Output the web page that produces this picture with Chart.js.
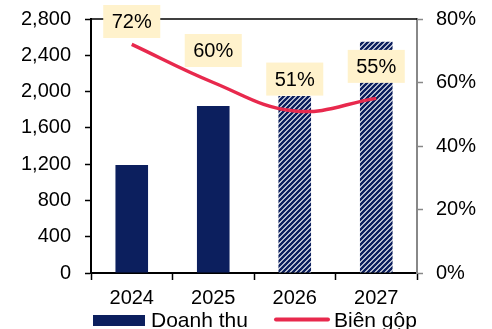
<!DOCTYPE html>
<html>
<head>
<meta charset="utf-8">
<script src="https://cdn.jsdelivr.net/npm/chart.js@4.4.1/dist/chart.umd.min.js"></script>
<style>
  html, body { margin: 0; padding: 0; background: #ffffff; }
  #wrap { width: 492px; height: 329px; }
</style>
</head>
<body>
<div id="wrap"><canvas id="chart" width="492" height="329"></canvas></div>
<script>
// Revenue (bars, left axis) and gross margin (line, right axis)
const years = ['2024', '2025', '2026', '2027'];
const revenue = [1190, 1840, 1950, 2550];
const grossMargin = [72, 60, 51, 55];
const forecastYears = ['2026', '2027'];
const revenueTicks = [0, 400, 800, 1200, 1600, 2000, 2400, 2800];
const marginTicks = [0, 20, 40, 60, 80];

const NAVY = '#0c1f5e';
const RED = '#e8294d';
const FONT = "'Liberation Sans', Arial, sans-serif";

// diagonal hatch used for forecast years
function makeHatch() {
  const s = 5;
  const c = document.createElement('canvas');
  c.width = s; c.height = s;
  const g = c.getContext('2d');
  g.fillStyle = '#ffffff';
  g.fillRect(0, 0, s, s);
  g.strokeStyle = NAVY;
  g.lineWidth = 2.6;
  g.beginPath();
  g.moveTo(-1, s + 1); g.lineTo(s + 1, -1);
  g.moveTo(-1, 1); g.lineTo(1, -1);
  g.moveTo(s - 1, s + 1); g.lineTo(s + 1, s - 1);
  g.stroke();
  return g.createPattern(c, 'repeat');
}
const hatch = makeHatch();
const barColors = years.map(y => forecastYears.includes(y) ? hatch : NAVY);

// fixed axis widths; the label padding should not push the plot area down
function fixWidth(w) {
  return scale => {
    scale.width = w;
    scale.paddingTop = 0;
    scale.paddingBottom = 0;
  };
}

// top frame line of the plot box
const frameTop = {
  id: 'frameTop',
  afterDatasetsDraw(chart) {
    const { ctx, chartArea } = chart;
    ctx.save();
    ctx.strokeStyle = '#000';
    ctx.lineWidth = 1.5;
    ctx.beginPath();
    ctx.moveTo(chartArea.left, chartArea.top);
    ctx.lineTo(chartArea.right, chartArea.top);
    ctx.stroke();
    ctx.restore();
  }
};

// margin value boxes above the line points
const marginLabels = {
  id: 'marginLabels',
  afterDatasetsDraw(chart) {
    const { ctx } = chart;
    const meta = chart.getDatasetMeta(1);
    const ds = chart.data.datasets[1];
    ctx.save();
    ctx.font = '20px ' + FONT;
    ctx.textAlign = 'center';
    ctx.textBaseline = 'middle';
    meta.data.forEach((pt, i) => {
      const text = ds.data[i] + '%';
      const w = ctx.measureText(text).width + 17;
      const h = 33;
      let cy = pt.y - 32;
      if (cy - h / 2 < 5) cy = 5 + h / 2;
      ctx.fillStyle = '#fff2cc';
      ctx.fillRect(pt.x - w / 2, cy - h / 2, w, h);
      ctx.fillStyle = '#000';
      ctx.fillText(text, pt.x, cy + 1);
    });
    ctx.restore();
  }
};

// legend row along the bottom edge
const bottomLegend = {
  id: 'bottomLegend',
  afterDraw(chart) {
    const { ctx } = chart;
    const ds = chart.data.datasets;
    const y = 320;
    ctx.save();
    ctx.font = '21px ' + FONT;
    ctx.textBaseline = 'middle';
    ctx.textAlign = 'left';
    ctx.fillStyle = NAVY;
    ctx.fillRect(93, 315, 52, 11);
    ctx.fillStyle = '#000';
    ctx.fillText(ds[0].label, 151, y + 1);
    ctx.strokeStyle = RED;
    ctx.lineWidth = 4;
    ctx.lineCap = 'round';
    ctx.beginPath();
    ctx.moveTo(276, 319.5);
    ctx.lineTo(328, 319.5);
    ctx.stroke();
    ctx.fillText(ds[1].label, 334, y + 1);
    ctx.restore();
  }
};

new Chart(document.getElementById('chart'), {
  data: {
    labels: years,
    datasets: [
      {
        type: 'bar',
        label: 'Doanh thu',
        data: revenue,
        yAxisID: 'y',
        backgroundColor: barColors,
        borderWidth: 0,
        barPercentage: 0.8,
        categoryPercentage: 0.5,
        order: 2
      },
      {
        type: 'line',
        label: 'Biên gộp',
        data: grossMargin,
        yAxisID: 'y1',
        borderColor: RED,
        borderWidth: 3.5,
        tension: 0.4,
        pointRadius: 0,
        fill: false,
        order: 1
      }
    ]
  },
  options: {
    responsive: false,
    animation: false,
    layout: { padding: { top: 19, left: 0, right: 0, bottom: 0 } },
    plugins: { legend: { display: false }, tooltip: { enabled: false } },
    scales: {
      x: {
        offset: true,
        grid: { offset: true, drawOnChartArea: false, color: '#000', tickLength: 7, tickWidth: 1.5 },
        border: { color: '#000', width: 2 },
        ticks: { color: '#000', font: { family: FONT, size: 20 }, padding: 6, maxRotation: 0 },
        afterFit(scale) { scale.height = 56; }
      },
      y: {
        position: 'left',
        min: revenueTicks[0],
        max: revenueTicks[revenueTicks.length - 1],
        grid: { drawOnChartArea: false, color: '#000', tickLength: 6, tickWidth: 1.5 },
        border: { color: '#000', width: 2 },
        ticks: {
          stepSize: revenueTicks[1] - revenueTicks[0],
          color: '#000',
          font: { family: FONT, size: 20 },
          padding: 14,
          callback: v => v.toLocaleString('en-US')
        },
        afterFit: fixWidth(91)
      },
      y1: {
        position: 'right',
        min: marginTicks[0],
        max: marginTicks[marginTicks.length - 1],
        grid: { drawOnChartArea: false, color: '#888', tickLength: 6, tickWidth: 1.5 },
        border: { color: '#888', width: 2 },
        ticks: {
          stepSize: marginTicks[1] - marginTicks[0],
          color: '#000',
          font: { family: FONT, size: 20 },
          padding: 13,
          callback: v => v + '%'
        },
        afterFit: fixWidth(75)
      }
    }
  },
  plugins: [frameTop, marginLabels, bottomLegend]
});
</script>
</body>
</html>
